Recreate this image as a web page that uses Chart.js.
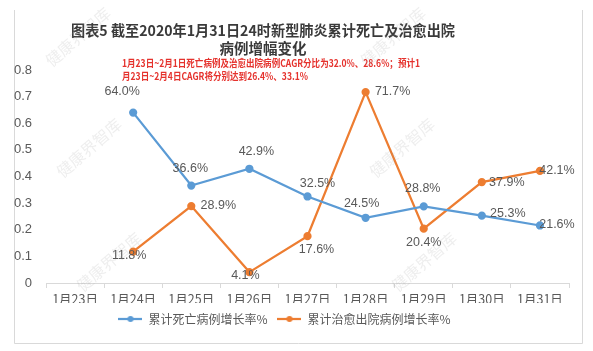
<!DOCTYPE html>
<html>
<head>
<meta charset="utf-8">
<script src="https://cdn.jsdelivr.net/npm/chart.js@4.4.1/dist/chart.umd.min.js"></script>
<style>
  html, body { margin: 0; padding: 0; background: #fff; }
  #wrap { width: 593px; height: 351px; }
</style>
</head>
<body>
<div id="wrap"><canvas id="growthChart" width="593" height="351"></canvas></div>
<script>
const categories = ["1月23日", "1月24日", "1月25日", "1月26日", "1月27日", "1月28日", "1月29日", "1月30日", "1月31日"];
const deathGrowth = [null, 0.640, 0.366, 0.429, 0.325, 0.245, 0.288, 0.253, 0.216];
const curedGrowth = [null, 0.118, 0.289, 0.041, 0.176, 0.717, 0.204, 0.379, 0.421];
const seriesNames = ["累计死亡病例增长率%", "累计治愈出院病例增长率%"];
const titleLines = ["图表5 截至2020年1月31日24时新型肺炎累计死亡及治愈出院", "病例增幅变化"];
const noteLines = ["1月23日~2月1日死亡病例及治愈出院病例CAGR分比为32.0%、28.6%；预计1", "月23日~2月4日CAGR将分别达到26.4%、33.1%"];
const watermark = "健康界智库";

// label nudges (px) per point, roughly where excel put them
const deathLabelShift = [null, [-11, -21], [-1, -17], [7, -17], [10, -13], [-4, -14], [-1, -18], [26, -2], [17, -1]];
const curedLabelShift = [null, [-4, 4], [27, -1], [-4, 3], [9, 13], [27, -1], [0, 14], [25, 0], [17, 0]];

const BLUE = "#5b9bd5";
const ORANGE = "#ed7d31";
const TEXT = "#595959";

function legendMarker(color) {
  const c = document.createElement("canvas");
  c.width = 24; c.height = 8;
  const g = c.getContext("2d");
  g.strokeStyle = color; g.lineWidth = 2.25;
  g.beginPath(); g.moveTo(0, 4); g.lineTo(24, 4); g.stroke();
  g.fillStyle = color;
  g.beginPath(); g.arc(12, 4, 3, 0, Math.PI * 2); g.fill();
  return c;
}

const decorPlugin = {
  id: "decor",
  beforeDraw(chart) {
    const ctx = chart.ctx;
    ctx.save();
    ctx.fillStyle = "#fff";
    ctx.fillRect(0, 0, chart.width, chart.height);
    ctx.strokeStyle = "#d9d9d9";
    ctx.lineWidth = 1;
    ctx.beginPath();
    ctx.moveTo(14.5, 10); ctx.lineTo(14.5, 343.5); ctx.lineTo(582.5, 343.5); ctx.lineTo(582.5, 10);
    ctx.stroke();
    ctx.restore();
  },
  afterDatasetsDraw(chart) {
    const ctx = chart.ctx;
    ctx.save();
    ctx.font = "12.5px 'Liberation Sans', Arial, sans-serif";
    ctx.fillStyle = TEXT;
    ctx.textAlign = "center";
    ctx.textBaseline = "middle";
    const shifts = [deathLabelShift, curedLabelShift];
    chart.data.datasets.forEach((ds, di) => {
      chart.getDatasetMeta(di).data.forEach((pt, i) => {
        const v = ds.data[i];
        if (v == null) return;
        const s = shifts[di][i] || [0, -16];
        ctx.fillText((v * 100).toFixed(1) + "%", pt.x + s[0], pt.y + s[1]);
      });
    });
    ctx.restore();
  },
  afterDraw(chart) {
    const ctx = chart.ctx;
    ctx.save();
    // title
    ctx.fillStyle = "#3a3a3a";
    ctx.textAlign = "center";
    ctx.textBaseline = "middle";
    ctx.font = "bold 14.5px 'Noto Sans CJK SC', sans-serif";
    ctx.fillText(titleLines[0], 263, 30, 384);
    ctx.fillText(titleLines[1], 263, 48);
    // red note
    ctx.fillStyle = "#e5322d";
    ctx.textAlign = "left";
    ctx.font = "bold 10px 'Noto Sans CJK SC', sans-serif";
    ctx.fillText(noteLines[0], 122, 63, 298);
    ctx.fillText(noteLines[1], 122, 76, 186);
    // watermarks
    ctx.fillStyle = "rgba(150,150,150,0.16)";
    ctx.textAlign = "center";
    ctx.font = "16px 'Noto Sans CJK SC', serif";
    [[78, 37], [393, 37], [89, 148], [402, 148], [109, 262], [424, 262]].forEach(p => {
      ctx.save();
      ctx.translate(p[0], p[1]);
      ctx.rotate(-41 * Math.PI / 180);
      ctx.fillText(watermark, 0, 0);
      ctx.restore();
    });
    ctx.restore();
  }
};

const ctx = document.getElementById("growthChart").getContext("2d");
const chart = new Chart(ctx, {
  type: "line",
  data: {
    labels: categories,
    datasets: [
      {
        label: seriesNames[0],
        data: deathGrowth,
        borderColor: BLUE,
        backgroundColor: BLUE,
        pointBackgroundColor: BLUE,
        pointBorderColor: BLUE,
        borderWidth: 2.25,
        pointRadius: 3,
        tension: 0,
      },
      {
        label: seriesNames[1],
        data: curedGrowth,
        borderColor: ORANGE,
        backgroundColor: ORANGE,
        pointBackgroundColor: ORANGE,
        pointBorderColor: ORANGE,
        borderWidth: 2.25,
        pointRadius: 3,
        tension: 0,
      },
    ],
  },
  options: {
    responsive: false,
    animation: false,
    devicePixelRatio: 1,
    layout: { padding: { top: 70, right: 24, bottom: 16, left: 0 } },
    elements: { point: { pointStyle: "circle" } },
    plugins: {
      title: { display: false },
      tooltip: { enabled: false },
      legend: {
        position: "bottom",
        labels: {
          usePointStyle: true,
          pointStyleWidth: 24,
          padding: 10,
          color: TEXT,
          font: { family: "'Noto Sans CJK SC', sans-serif", size: 12 },
          generateLabels(chart) {
            return chart.data.datasets.map((ds, i) => ({
              text: ds.label,
              fontColor: TEXT,
              pointStyle: legendMarker(ds.borderColor),
              datasetIndex: i,
              lineWidth: 0,
              strokeStyle: ds.borderColor,
              fillStyle: ds.borderColor,
            }));
          },
        },
      },
    },
    scales: {
      x: {
        offset: true,
        grid: { display: true, drawOnChartArea: false, drawTicks: true, tickLength: 5, color: "#d9d9d9", offset: true },
        border: { display: true, color: "#d9d9d9" },
        ticks: { color: TEXT, padding: 4, font: { family: "'Noto Sans CJK SC', sans-serif", size: 12.5 }, maxRotation: 0 },
        afterFit(scale) { scale.height = 20; },
      },
      y: {
        min: 0,
        max: 0.8,
        grid: { display: false },
        border: { display: false },
        ticks: {
          stepSize: 0.1,
          padding: 6,
          color: TEXT,
          font: { family: "'Liberation Sans', Arial, sans-serif", size: 13 },
          callback: v => (v === 0 ? "0" : v.toFixed(1)),
        },
        afterFit(scale) { scale.width = 46; },
      },
    },
  },
  plugins: [decorPlugin],
});
</script>
</body>
</html>
